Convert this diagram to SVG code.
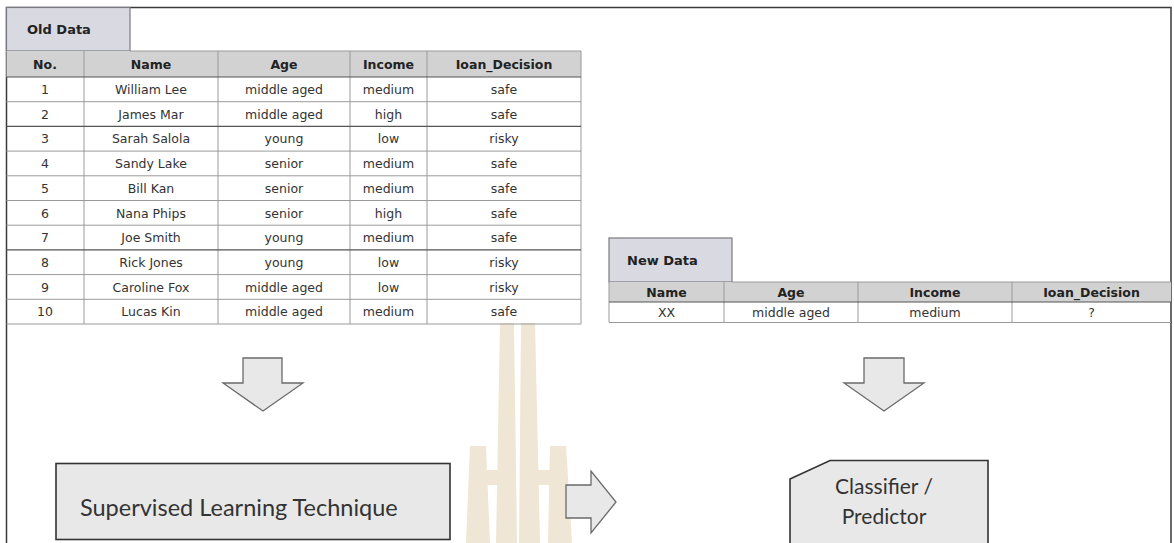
<svg xmlns="http://www.w3.org/2000/svg" width="1174" height="543" viewBox="0 0 1174 543">
<style>
.frame{fill:#fff;stroke:#3a3a3a;stroke-width:1.5}
.tab{fill:#d9d9e1;stroke:#7a7a80;stroke-width:1.2}
.tabt{font-family:"DejaVu Sans",sans-serif;font-weight:bold;font-size:13px;fill:#222}
.hdr{fill:#d2d2d2}
.hd{font-family:"DejaVu Sans",sans-serif;font-weight:bold;font-size:12.5px;fill:#222;text-anchor:middle}
.td{font-family:"DejaVu Sans",sans-serif;font-size:12.5px;fill:#333;text-anchor:middle}
.gl{stroke:#9a9a9a;stroke-width:1;fill:none}
.dl{stroke:#555;stroke-width:1.2;fill:none}
.arrow{fill:#e8e8e8;stroke:#6a6a6a;stroke-width:1.3;stroke-linejoin:miter}
.box{fill:#e9e8e9;stroke:#333;stroke-width:1.6}
.lbl{font-family:"Lato","Open Sans",sans-serif;font-size:21px;fill:#333}
.wm{fill:#efe6d5}
</style>
<rect class="frame" x="6.5" y="7.5" width="1164.5" height="560"/>
<g id="watermark">
<polygon class="wm" points="500,323 514,323 517,543 496,543"/>
<polygon class="wm" points="521,323 535,323 540,543 519,543"/>
<polygon class="wm" points="470,446 486,446 490,543 466,543"/>
<polygon class="wm" points="550,446 566,446 572,543 548,543"/>
<rect class="wm" x="480" y="470" width="20" height="15"/>
<rect class="wm" x="536" y="470" width="20" height="15"/>
</g>
<g id="old-data">
<rect class="tab" x="6.5" y="7.5" width="123.5" height="43.5"/>
<text class="tabt" x="27" y="34">Old Data</text>
<rect class="hdr" x="6.5" y="51" width="574.5" height="26"/>
<g class="gl">
<line x1="6.5" y1="101.7" x2="581" y2="101.7"/>
<line x1="6.5" y1="151.1" x2="581" y2="151.1"/>
<line x1="6.5" y1="175.8" x2="581" y2="175.8"/>
<line x1="6.5" y1="200.5" x2="581" y2="200.5"/>
<line x1="6.5" y1="225.2" x2="581" y2="225.2"/>
<line x1="6.5" y1="274.6" x2="581" y2="274.6"/>
<line x1="6.5" y1="299.3" x2="581" y2="299.3"/>
<line x1="6.5" y1="324" x2="581" y2="324"/>
<line x1="84" y1="51" x2="84" y2="324"/>
<line x1="218" y1="51" x2="218" y2="324"/>
<line x1="350" y1="51" x2="350" y2="324"/>
<line x1="427" y1="51" x2="427" y2="324"/>
<line x1="581" y1="51" x2="581" y2="324"/>
<line x1="130" y1="51" x2="581" y2="51"/>
</g>
<g class="dl">
<line x1="6.5" y1="77" x2="581" y2="77"/>
<line x1="6.5" y1="126.4" x2="581" y2="126.4"/>
<line x1="6.5" y1="249.9" x2="581" y2="249.9"/>
</g>
<text class="hd" x="45" y="69">No.</text>
<text class="hd" x="151" y="69">Name</text>
<text class="hd" x="284" y="69">Age</text>
<text class="hd" x="388.5" y="69">Income</text>
<text class="hd" x="504" y="69">Ioan_Decision</text>
<g class="td">
<text x="45" y="94">1</text><text x="151" y="94">William Lee</text><text x="284" y="94">middle aged</text><text x="388.5" y="94">medium</text><text x="504" y="94">safe</text>
<text x="45" y="118.7">2</text><text x="151" y="118.7">James Mar</text><text x="284" y="118.7">middle aged</text><text x="388.5" y="118.7">high</text><text x="504" y="118.7">safe</text>
<text x="45" y="143.4">3</text><text x="151" y="143.4">Sarah Salola</text><text x="284" y="143.4">young</text><text x="388.5" y="143.4">low</text><text x="504" y="143.4">risky</text>
<text x="45" y="168.1">4</text><text x="151" y="168.1">Sandy Lake</text><text x="284" y="168.1">senior</text><text x="388.5" y="168.1">medium</text><text x="504" y="168.1">safe</text>
<text x="45" y="192.8">5</text><text x="151" y="192.8">Bill Kan</text><text x="284" y="192.8">senior</text><text x="388.5" y="192.8">medium</text><text x="504" y="192.8">safe</text>
<text x="45" y="217.5">6</text><text x="151" y="217.5">Nana Phips</text><text x="284" y="217.5">senior</text><text x="388.5" y="217.5">high</text><text x="504" y="217.5">safe</text>
<text x="45" y="242.2">7</text><text x="151" y="242.2">Joe Smith</text><text x="284" y="242.2">young</text><text x="388.5" y="242.2">medium</text><text x="504" y="242.2">safe</text>
<text x="45" y="266.9">8</text><text x="151" y="266.9">Rick Jones</text><text x="284" y="266.9">young</text><text x="388.5" y="266.9">low</text><text x="504" y="266.9">risky</text>
<text x="45" y="291.6">9</text><text x="151" y="291.6">Caroline Fox</text><text x="284" y="291.6">middle aged</text><text x="388.5" y="291.6">low</text><text x="504" y="291.6">risky</text>
<text x="45" y="316.3">10</text><text x="151" y="316.3">Lucas Kin</text><text x="284" y="316.3">middle aged</text><text x="388.5" y="316.3">medium</text><text x="504" y="316.3">safe</text>
</g>
</g>
<g id="new-data">
<rect class="tab" x="609" y="238" width="123" height="44"/>
<text class="tabt" x="627" y="265">New Data</text>
<rect class="hdr" x="609" y="282" width="562" height="20"/>
<g class="gl">
<line x1="732" y1="282" x2="1171" y2="282"/>
<line x1="609" y1="322.5" x2="1171" y2="322.5"/>
<line x1="609" y1="282" x2="609" y2="322.5"/>
<line x1="724" y1="282" x2="724" y2="322.5"/>
<line x1="858" y1="282" x2="858" y2="322.5"/>
<line x1="1012" y1="282" x2="1012" y2="322.5"/>
</g>
<line class="dl" x1="609" y1="302" x2="1171" y2="302"/>
<text class="hd" x="666.5" y="297">Name</text>
<text class="hd" x="791" y="297">Age</text>
<text class="hd" x="935" y="297">Income</text>
<text class="hd" x="1091.5" y="297">Ioan_Decision</text>
<text class="td" x="666.5" y="317">XX</text>
<text class="td" x="791" y="317">middle aged</text>
<text class="td" x="935" y="317">medium</text>
<text class="td" x="1091.5" y="317">?</text>
</g>
<g id="supervised">
<rect class="box" x="56" y="463.5" width="394" height="76"/>
<text class="lbl" x="80" y="516" style="font-size:23.5px">Supervised Learning Technique</text>
</g>
<g id="classifier">
<polygon class="box" points="790,479 830,460.5 988,460.5 988,560 790,560"/>
<text class="lbl" x="884" y="494" text-anchor="middle">Classifier /</text>
<text class="lbl" x="884" y="524" text-anchor="middle">Predictor</text>
</g>
<g id="connectors">
<polygon class="arrow" points="243,358 282,358 282,383 303,383 263,411 223,383 243,383"/>
<polygon class="arrow" points="864,358 904,358 904,383 924,383 884,411 844,383 864,383"/>
<polygon class="arrow" points="566,485 591,485 591,471 616,502 591,533 591,518 566,518"/>
</g>
</svg>
